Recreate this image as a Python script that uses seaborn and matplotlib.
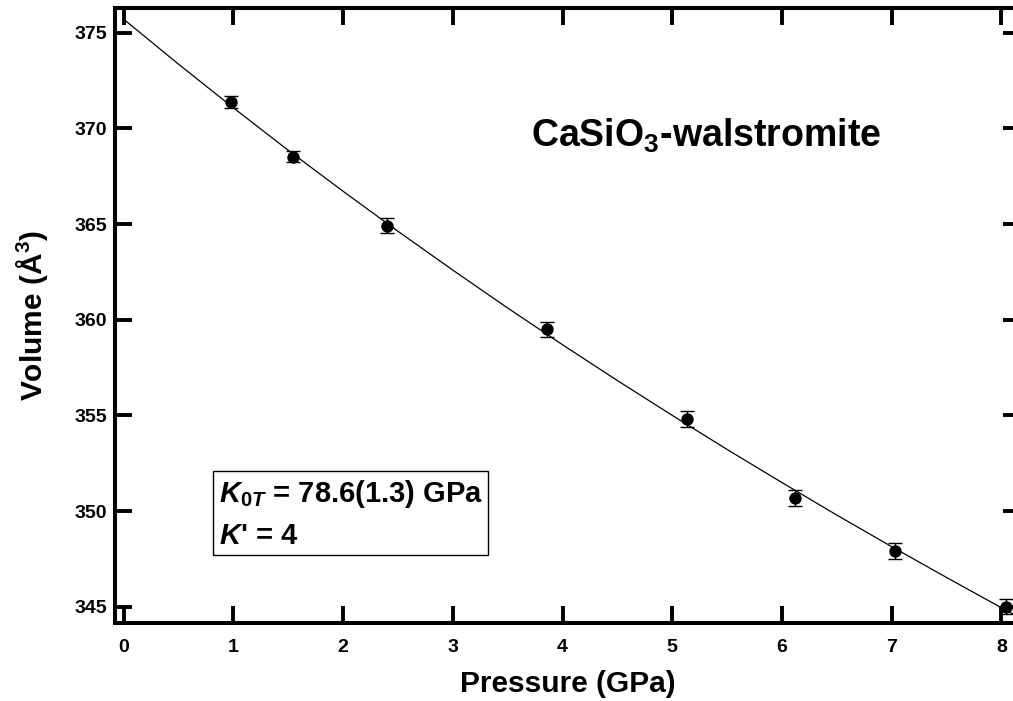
import matplotlib
matplotlib.use("Agg")
import matplotlib.pyplot as plt
import seaborn as sns
import numpy as np
import pandas as pd

# measured data
pressure = [0.979, 1.541, 2.402, 3.861, 5.131, 6.118, 7.034, 8.040]
volume = [371.39, 368.52, 364.91, 359.50, 354.81, 350.69, 347.91, 345.00]
vol_err = [0.30, 0.30, 0.40, 0.40, 0.40, 0.40, 0.40, 0.40]

# fitted EOS curve
curve_p = [0.0, 0.5, 1.0, 1.5, 2.0, 2.5, 3.0, 3.5, 4.0, 4.5, 5.0, 5.5, 6.0, 6.5, 7.0, 7.5, 8.0, 8.2]
curve_v = [375.70, 373.35, 371.07, 368.85, 366.71, 364.62, 362.59, 360.61, 358.69, 356.82,
           355.00, 353.22, 351.49, 349.79, 348.14, 346.53, 344.95, 344.33]

x_ticks = [0, 1, 2, 3, 4, 5, 6, 7, 8]
y_ticks = [345, 350, 355, 360, 365, 370, 375]

sns.set_style("ticks")
plt.rcParams['font.family'] = ['Liberation Sans', 'DejaVu Sans']
plt.rcParams['font.weight'] = 'bold'
plt.rcParams['text.color'] = 'black'
plt.rcParams['axes.labelcolor'] = 'black'
plt.rcParams['xtick.color'] = 'black'
plt.rcParams['ytick.color'] = 'black'
plt.rcParams['axes.edgecolor'] = 'black'
plt.rcParams['mathtext.fontset'] = 'custom'
plt.rcParams['mathtext.rm'] = 'Liberation Sans:bold'
plt.rcParams['mathtext.bf'] = 'Liberation Sans:bold'
plt.rcParams['mathtext.it'] = 'Liberation Sans:bold:italic'
plt.rcParams['mathtext.default'] = 'it'

fig = plt.figure(figsize=(10.13, 7.01), dpi=100)
W, H = 1013, 701
left_px, right_px, top_px, bot_px = 115, 1020, 8, 623
ax = fig.add_axes([left_px / W, 1 - bot_px / H, (right_px - left_px) / W, (bot_px - top_px) / H])

df_curve = pd.DataFrame({"P": curve_p, "V": curve_v})
df_pts = pd.DataFrame({"P": pressure, "V": volume, "err": vol_err})

sns.lineplot(data=df_curve, x="P", y="V", ax=ax, color="black", linewidth=0.9, sort=False, zorder=2)
ax.errorbar(df_pts["P"], df_pts["V"], yerr=df_pts["err"], fmt="none", ecolor="black",
            elinewidth=1.0, capsize=4.7, capthick=1.0, zorder=3)
sns.scatterplot(data=df_pts, x="P", y="V", ax=ax, color="black", s=80, edgecolor="black",
                linewidth=0, zorder=4, clip_on=False)

ax.set_xlim(-0.08, 8.17)
ax.set_ylim(344.15, 376.29)
ax.set_xticks(x_ticks)
ax.set_yticks(y_ticks)
ax.tick_params(direction="in", length=12, width=2.8, top=True, right=True,
               labelsize=14, pad=6)
ax.tick_params(axis="x", pad=11.5)
for s in ax.spines.values():
    s.set_linewidth(2.9)
    s.set_visible(True)

ax.set_xlabel("Pressure (GPa)", fontsize=21.5, fontweight="bold", labelpad=10)
ax.set_ylabel("Volume (Å$^{3}$)", fontsize=21.5, fontweight="bold", labelpad=17)

ax.text(0.46, 0.792, "CaSiO$_{3}$-walstromite", transform=ax.transAxes,
        fontsize=27, fontweight="bold", ha="left", va="center")

ax.text(0.1145, 0.236, "$K_{\\mathrm{0}T}$ = 78.6(1.3) GPa\n$K$' = 4", transform=ax.transAxes,
        fontsize=21, fontweight="bold", ha="left", va="top", linespacing=1.55,
        bbox=dict(boxstyle="square,pad=0.18", facecolor="white", edgecolor="black", linewidth=1.0))

fig.savefig("out.png", dpi=100)
